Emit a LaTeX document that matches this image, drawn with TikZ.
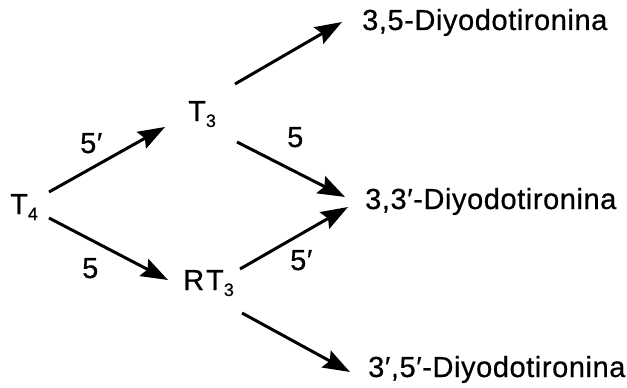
\documentclass[tikz,border=0pt]{standalone}
\usepackage{fontspec}
\setmainfont[LetterSpace=2,FakeBold=0.6]{Liberation Sans}
\usetikzlibrary{arrows.meta}
\newcommand\mysubs[1]{\raisebox{-6pt}{\fontsize{18}{18}\selectfont #1}}
\begin{document}
\begin{tikzpicture}[x=1pt,y=-1pt,
  lbl/.style={inner sep=0pt,anchor=base west,font=\fontsize{29}{30}\selectfont},
  arr/.style={line width=3pt,-{Stealth[length=27pt,width=19pt,inset=4pt]}}]
\useasboundingbox[fill=white] (0,0) rectangle (627,388);
\node[lbl] (T4) at (10,214) {T\mysubs{4}};
\node[lbl] (T3) at (188,121) {T\mysubs{3}};
\node[lbl] (RT3) at (183,290) {R\kern2pt T\mysubs{3}};
\node[lbl] (D35) at (362,30) {3,5-Diyodotironina};
\node[lbl] (D33) at (365,209) {3,3′-Diyodotironina};
\node[lbl] (D35p) at (368,377) {3′,5′-Diyodotironina};
\node[lbl] (l1) at (80,153) {5′};
\node[lbl] (l2) at (82,278) {5};
\node[lbl] (l3) at (287,147) {5};
\node[lbl] (l4) at (290,270) {5′};
\draw[arr] ([shift={(39,-22)}]T4.base west) -- ([shift={(-23,6)}]T3.base west);
\draw[arr] ([shift={(39,4)}]T4.base west) -- ([shift={(-15,-10)}]RT3.base west);
\draw[arr] ([shift={(47,-37)}]T3.base west) -- ([shift={(-20,-8)}]D35.base west);
\draw[arr] ([shift={(49,21)}]T3.base west) -- ([shift={(-20,-12)}]D33.base west);
\draw[arr] ([shift={(57,-21)}]RT3.base west) -- ([shift={(-17,-2)}]D33.base west);
\draw[arr] ([shift={(59,23)}]RT3.base west) -- ([shift={(-18,-5)}]D35p.base west);
\end{tikzpicture}
\end{document}
